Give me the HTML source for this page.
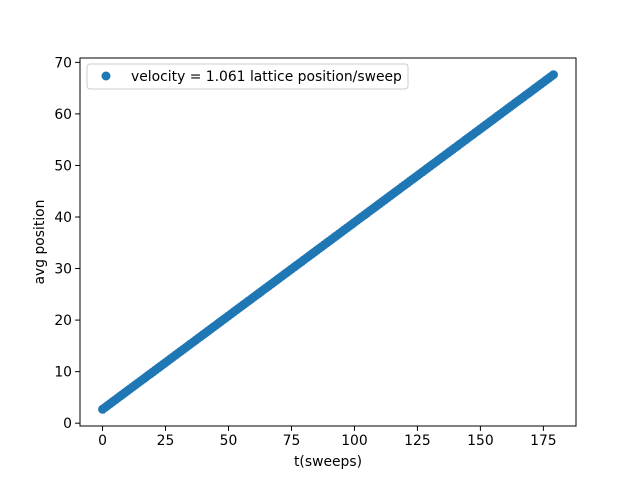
<!DOCTYPE html>
<html><head><meta charset="utf-8"><style>
html,body{margin:0;padding:0;background:#fff;}
svg{display:block;font-family:"DejaVu Sans","Liberation Sans",sans-serif;}
</style></head><body>
<svg id="chart" width="640" height="478" viewBox="0 0 640 478" xmlns="http://www.w3.org/2000/svg">
<rect width="640" height="478" fill="#fff"/>
<g id="marks"></g>
<g id="axes"></g>
</svg>
<script>
const tValues = [0,1,2,3,4,5,6,7,8,9,10,11,12,13,14,15,16,17,18,19,20,21,22,23,24,25,26,27,28,29,30,31,32,33,34,35,36,37,38,39,40,41,42,43,44,45,46,47,48,49,50,51,52,53,54,55,56,57,58,59,60,61,62,63,64,65,66,67,68,69,70,71,72,73,74,75,76,77,78,79,80,81,82,83,84,85,86,87,88,89,90,91,92,93,94,95,96,97,98,99,100,101,102,103,104,105,106,107,108,109,110,111,112,113,114,115,116,117,118,119,120,121,122,123,124,125,126,127,128,129,130,131,132,133,134,135,136,137,138,139,140,141,142,143,144,145,146,147,148,149,150,151,152,153,154,155,156,157,158,159,160,161,162,163,164,165,166,167,168,169,170,171,172,173,174,175,176,177,178,179];
const posValues = [2.70,3.06,3.43,3.79,4.15,4.51,4.88,5.24,5.60,5.96,6.33,6.69,7.05,7.41,7.78,8.14,8.50,8.86,9.23,9.59,9.95,10.31,10.68,11.04,11.40,11.76,12.13,12.49,12.85,13.21,13.58,13.94,14.30,14.66,15.03,15.39,15.75,16.11,16.48,16.84,17.20,17.56,17.93,18.29,18.65,19.01,19.38,19.74,20.10,20.46,20.83,21.19,21.56,21.92,22.28,22.64,23.01,23.37,23.73,24.09,24.46,24.82,25.18,25.54,25.91,26.27,26.63,26.99,27.36,27.72,28.08,28.44,28.81,29.17,29.53,29.89,30.26,30.62,30.98,31.34,31.71,32.07,32.43,32.79,33.16,33.52,33.88,34.24,34.61,34.97,35.33,35.69,36.06,36.42,36.78,37.14,37.51,37.87,38.23,38.59,38.96,39.32,39.69,40.05,40.41,40.77,41.14,41.50,41.86,42.22,42.59,42.95,43.31,43.67,44.04,44.40,44.76,45.12,45.49,45.85,46.21,46.57,46.94,47.30,47.66,48.02,48.39,48.75,49.11,49.47,49.84,50.20,50.56,50.92,51.29,51.65,52.01,52.37,52.74,53.10,53.46,53.82,54.19,54.55,54.92,55.28,55.64,56.00,56.37,56.73,57.09,57.45,57.82,58.18,58.54,58.90,59.27,59.63,59.99,60.35,60.72,61.08,61.44,61.80,62.17,62.53,62.89,63.25,63.62,63.98,64.34,64.70,65.07,65.43,65.79,66.15,66.52,66.88,67.24,67.60];
const xTicks = [0,25,50,75,100,125,150,175];
const yTicks = [0,10,20,30,40,50,60,70];
const legendLabel = "velocity = 1.061 lattice position/sweep";

const NS="http://www.w3.org/2000/svg";
const L=80,R=576,T=58,B=426;
const xmin=Math.min(...tValues),xmax=Math.max(...tValues);
const ymin=Math.min(...posValues),ymax=Math.max(...posValues);
const xpad=(xmax-xmin)*0.05,ypad=(ymax-ymin)*0.05;
const x0=xmin-xpad,x1=xmax+xpad,y0=ymin-ypad,y1=ymax+ypad;
const sx=v=>L+(v-x0)/(x1-x0)*(R-L);
const sy=v=>B-(v-y0)/(y1-y0)*(B-T);
function mk(tag,attrs,parent,text){const e=document.createElementNS(NS,tag);for(const k in attrs)e.setAttribute(k,attrs[k]);if(text!==undefined)e.textContent=text;parent.appendChild(e);return e;}
const marks=document.getElementById('marks');
tValues.forEach((t,i)=>{
  const c=mk('circle',{cx:sx(t),cy:sy(posValues[i]),r:4.5,fill:'#1f77b4'},marks);
  
  
});
const ax=document.getElementById('axes');
const frame=mk('rect',{x:L,y:T,width:R-L,height:B-T,fill:'none',stroke:'#000','stroke-width':1},ax);


xTicks.forEach(v=>{
  const x=sx(v);
  const tk=mk('line',{x1:x,x2:x,y1:B,y2:B+4.9,stroke:'#000','stroke-width':1},ax);
  
  
  const lb=mk('text',{x:x,y:B+19,'text-anchor':'middle','font-size':13.9,fill:'#000'},ax,String(v));
  
  
});
yTicks.forEach(v=>{
  const y=sy(v);
  const tk=mk('line',{x1:L-4.9,x2:L,y1:y,y2:y,stroke:'#000','stroke-width':1},ax);
  
  
  const lb=mk('text',{x:L-8,y:y+5,'text-anchor':'end','font-size':13.9,fill:'#000'},ax,String(v));
  
  
});
const xt=mk('text',{x:(L+R)/2,y:466,'text-anchor':'middle','font-size':13.9,fill:'#000'},ax,'t(sweeps)');


const yt=mk('text',{x:0,y:0,'text-anchor':'middle','font-size':13.9,fill:'#000',transform:`translate(44,${(T+B)/2}) rotate(-90)`},ax,'avg position');


const lg=mk('g',{},ax);


mk('rect',{x:87,y:64,width:321,height:25,rx:3,fill:'#fff','fill-opacity':0.8,stroke:'#ccc'},lg);
mk('circle',{cx:106,cy:76,r:4.5,fill:'#1f77b4'},lg);
const lt=mk('text',{x:131,y:81,'font-size':13.9,fill:'#000'},lg,legendLabel);


</script>
</body></html>
